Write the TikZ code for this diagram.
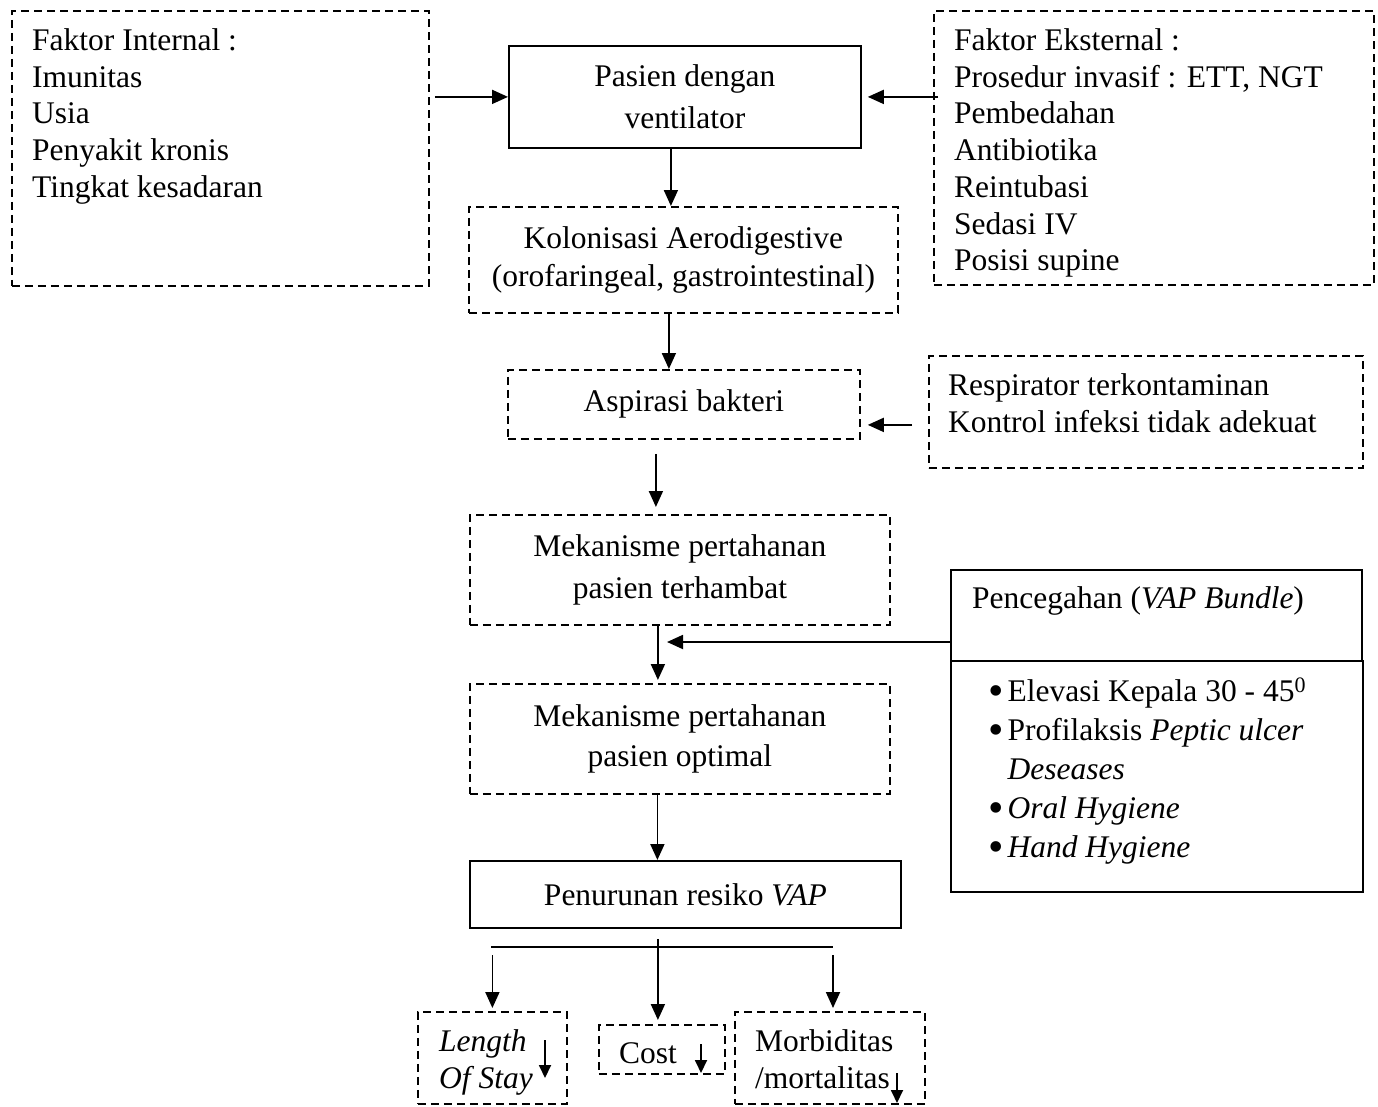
\documentclass[tikz,border=0pt]{standalone}
\usepackage{fontspec}
\setmainfont{Liberation Serif}
\usetikzlibrary{arrows.meta}
\newcommand{\bulletmark}{\raisebox{-0.12em}[0pt][0pt]{\scalebox{1.4}{\textbullet}}\kern4pt}

\begin{document}
\begin{tikzpicture}[x=1pt,y=-1pt,
  every node/.style={font=\fontsize{31.5}{36.7}\selectfont, inner sep=0pt},
  solidbox/.style={draw, line width=1.8pt, rectangle, anchor=north west},
  dashbox/.style={solidbox, dash pattern=on 8pt off 5pt},
  txt/.style={align=left, anchor=north west},
  arr/.style={line width=1.8pt, -{Triangle[length=16pt,width=14pt]}},
  smallarr/.style={line width=1.8pt, -{Triangle[length=13pt,width=12pt]}},
  plain/.style={line width=1.8pt}]
\useasboundingbox (0,0) rectangle (1378,1106);

% --- risk factors and the patient on a ventilator ---
\node[dashbox, minimum width=417pt, minimum height=275pt] (fi) at (11,10) {};
\node[txt] (fitxt) at (32,28.5) {Faktor Internal :\\Imunitas\\Usia\\Penyakit kronis\\Tingkat kesadaran};

\node[solidbox, minimum width=352pt, minimum height=102pt, align=center] (pv) at (508,45) {Pasien dengan\\[5.3pt]ventilator};

\node[dashbox, minimum width=440pt, minimum height=274pt] (fe) at (933,10) {};
\node[txt] (fetxt) at (954,28.5) {Faktor Eksternal :\\Prosedur invasif : ETT, NGT\\Pembedahan\\Antibiotika\\Reintubasi\\Sedasi IV\\Posisi supine};

% --- main chain ---
\node[dashbox, minimum width=429pt, minimum height=106pt, align=center] (kol) at (468,206) {Kolonisasi Aerodigestive\\[1.3pt](orofaringeal, gastrointestinal)};
\node[dashbox, minimum width=352pt, minimum height=69pt] (asp) at (507,369) {Aspirasi bakteri};

\node[dashbox, minimum width=434pt, minimum height=112pt] (resp) at (928,355) {};
\node[txt] (resptxt) at (948,373.5) {Respirator terkontaminan\\Kontrol infeksi tidak adekuat};

\node[dashbox, minimum width=420pt, minimum height=110pt, align=center] (mk1) at (469,514) {Mekanisme pertahanan\\[5.3pt]pasien terhambat};

% --- prevention bundle ---
\node[solidbox, minimum width=411pt, minimum height=91pt] (pc) at (950,569) {};
\node[anchor=base west] (pctxt) at (972,608) {Pencegahan (\textit{VAP Bundle})};
\node[solidbox, minimum width=412pt, minimum height=231pt] (bl) at (950,660) {};
\node[txt, font=\fontsize{31.5}{39}\selectfont] (bltxt) at (988,678) {%
  \bulletmark Elevasi Kepala 30 - 45\textsuperscript{0}\\
  \bulletmark Profilaksis \textit{Peptic ulcer}\\
  \phantom{\bulletmark}\textit{Deseases}\\
  \bulletmark\textit{Oral Hygiene}\\
  \bulletmark\textit{Hand Hygiene}};

\node[dashbox, minimum width=420pt, minimum height=110pt, align=center] (mk2) at (469,683) {Mekanisme pertahanan\\[3.3pt]pasien optimal};
\node[solidbox, minimum width=431pt, minimum height=67pt] (pr) at (469,860) {Penurunan resiko \textit{VAP}};

% --- outcomes ---
\node[dashbox, minimum width=149pt, minimum height=92pt] (los) at (417,1011) {};
\node[txt] (lostxt) at (439,1029.5) {\textit{Length}\\\textit{Of Stay}};
\node[dashbox, minimum width=126pt, minimum height=49pt] (cost) at (598,1024) {};
\node[anchor=base west] (costtxt) at (619,1063) {Cost};
\node[dashbox, minimum width=190pt, minimum height=92pt] (mor) at (734,1011) {};
\node[txt] (mortxt) at (755,1029.5) {Morbiditas\\/mortalitas};

% small "decrease" arrows inside the outcome boxes
\coordinate (d1a) at (545,1040); \coordinate (d1b) at (545,1078);
\coordinate (d2a) at (701,1044); \coordinate (d2b) at (701,1073);
\coordinate (d3a) at (897,1073); \coordinate (d3b) at (897,1103);
\draw[smallarr] (d1a) -- (d1b);
\draw[smallarr] (d2a) -- (d2b);
\draw[smallarr] (d3a) -- (d3b);

% --- connectors ---
\draw[arr, shorten <=5pt] (fi.east |- pv.west) -- (pv.west);
\draw[arr, shorten <=-5pt, shorten >=6pt] (fe.west |- pv.east) -- (pv.east);
\draw[arr] ([xshift=-14pt]pv.south) -- ([xshift=-14pt]pv.south |- kol.north);
\draw[arr] ([xshift=-14.5pt]kol.south) -- ([xshift=-14.5pt]kol.south |- asp.north);
\draw[arr, shorten <=16pt, shorten >=7pt] ([yshift=-13pt]resp.west) -- ([yshift=-13pt]resp.west -| asp.east);
\draw[arr, shorten <=14pt, shorten >=7pt] ([xshift=-28pt]asp.south) -- ([xshift=-28pt]asp.south |- mk1.north);
\draw[arr, shorten >=3pt] ([xshift=-22pt]mk1.south) -- ([xshift=-22pt]mk1.south |- mk2.north);
\coordinate (pj) at (657,642);
\draw[arr, shorten >=10pt] (pc.west |- pj) -- (pj);
\draw[arr] ([xshift=-22.5pt]mk2.south) -- ([xshift=-22.5pt]mk2.south |- pr.north);
\draw[arr, shorten <=10pt, shorten >=4pt] ([xshift=-27.5pt]pr.south) -- ([xshift=-27.5pt]pr.south |- cost.north);

\coordinate (brl) at (491,947);
\coordinate (brr) at (833,947);
\draw[plain] (brl) -- (brr);
\draw[arr, shorten <=8pt, shorten >=3pt] (los.north |- brl) -- (los.north);
\draw[arr, shorten <=8pt, shorten >=3pt] (brr) -- (brr |- mor.north);
\end{tikzpicture}
\end{document}
